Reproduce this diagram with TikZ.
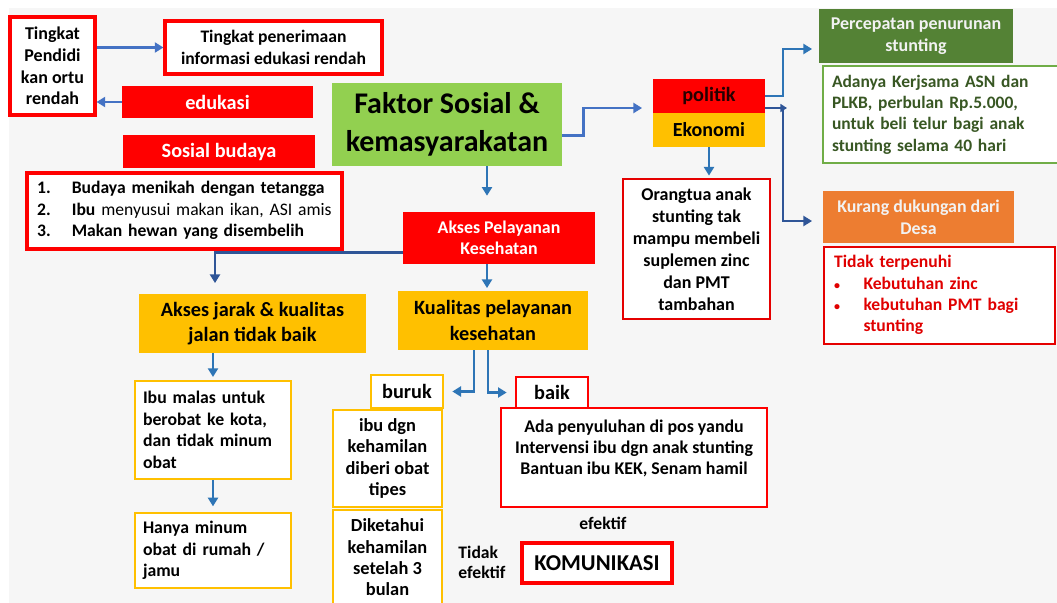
\documentclass[tikz,border=0pt]{standalone}
\usepackage{fontspec}
\setmainfont{Carlito}
\usetikzlibrary{arrows.meta,calc}

\definecolor{bgc}{HTML}{F6F6F6}
\definecolor{rd}{HTML}{FF0000}
\definecolor{gold}{HTML}{FFC000}
\definecolor{lgreen}{HTML}{92D050}
\definecolor{dgreen}{HTML}{548235}
\definecolor{tgreen}{HTML}{385723}
\definecolor{bgreen}{HTML}{70AD47}
\definecolor{orng}{HTML}{ED7D31}
\definecolor{blueA}{HTML}{2E75B6}
\definecolor{blueB}{HTML}{4472C4}
\definecolor{blueC}{HTML}{2F5597}
\definecolor{txtred}{HTML}{E00000}

% font size helper
\newcommand\fsz[2]{\fontsize{#1pt}{#2pt}\selectfont}
% box from corner (x1,y1) to (x2,y2) in pixel units
\newcommand\pbox[7]{\node[#6,minimum width={(#4-#2)*0.75pt},minimum height={(#5-#3)*0.75pt}] (#1) at ({(#2+#4)/2},{(#3+#5)/2}) {#7};}
% a justified line
\newcommand\jline[1]{\makebox[\linewidth][s]{#1}}
% small bullet
\newcommand\smbul{{\fsz{9}{9}\textbullet}}

\begin{document}
\begin{tikzpicture}[x=0.75pt,y=-0.75pt,
  base/.style={inner sep=0pt,align=center,font=\bfseries},
  redline/.style={base,draw=rd,line width=2.3pt,fill=white},
  redthin/.style={base,draw=rd!90!black,line width=1.1pt,fill=white},
  redfill/.style={base,fill=rd,text=white},
  goldfill/.style={base,fill=gold},
  goldline/.style={base,draw=gold,line width=2pt,fill=white},
  arr/.style={line width=2pt,-{Triangle[length=6.5pt,width=7.5pt]}}]

\useasboundingbox (0,0) rectangle (1057,603);
\clip (0,0) rectangle (1057,603);
\fill[white] (0,0) rectangle (1057,603);
\fill[bgc] (9,8) rectangle (1057,603);

% left column: education and culture
\pbox{tp}{10}{17}{95}{115}{redline,font=\bfseries\fsz{13.5}{16.3}}{Tingkat\\Pendidi\\kan ortu\\rendah}
\pbox{tr}{165}{21}{382}{74}{redline,font=\bfseries\fsz{13.2}{17}}{Tingkat penerimaan\\informasi edukasi rendah}
\pbox{edu}{122}{86}{313}{118}{redfill,font=\bfseries\fsz{15.2}{16}}{edukasi}
\pbox{sb}{123}{135}{315}{168}{redfill,font=\bfseries\fsz{15.2}{16}}{Sosial budaya}
\pbox{ls}{27}{173}{342}{249}{redline,align=left,text width=221pt,font=\bfseries\fsz{13.2}{16}}{%
\begin{tabular}{@{}p{26pt}@{}l@{}}
1. & Budaya menikah dengan tetangga\\
2. & Ibu \mdseries menyusui makan ikan, ASI amis\\
3. & Makan hewan yang disembelih
\end{tabular}}

% centre column
\pbox{fs}{332}{83}{562}{166}{base,fill=lgreen,font=\bfseries\fsz{22.5}{28.5}}{Faktor Sosial \&\\kemasyarakatan}
\pbox{ap}{403}{212}{595}{264}{redfill,font=\bfseries\fsz{13.4}{16}}{Akses Pelayanan\\Kesehatan}
\pbox{aj}{139}{294}{366}{353}{goldfill,font=\bfseries\fsz{15.2}{19}}{Akses jarak \& kualitas\\jalan tidak baik}
\pbox{kp}{398}{291}{588}{350}{goldfill,font=\bfseries\fsz{15.2}{19}}{Kualitas pelayanan\\kesehatan}
\pbox{im}{135}{381}{291}{479}{goldline,align=left,text width=105pt,font=\bfseries\fsz{13.3}{16.2}}{Ibu malas untuk\\berobat ke kota,\\dan tidak minum\\obat}
\pbox{hm}{135}{513}{291}{588}{goldline,align=left,text width=105pt,font=\bfseries\fsz{13.3}{16.2}}{Hanya minum\\obat di rumah /\\jamu}
\pbox{bk}{371}{375}{443}{408}{goldline,font=\bfseries\fsz{15.2}{16}}{buruk}
\pbox{ib}{333}{410}{442}{507}{goldline,font=\bfseries\fsz{13.8}{16.2}}{ibu dgn\\kehamilan\\diberi obat\\tipes}
\pbox{dk}{333}{510}{442}{605}{goldline,font=\bfseries\fsz{13.8}{16}}{Diketahui\\kehamilan\\setelah 3\\bulan}
\pbox{bi}{516}{377}{588}{408}{redline,line width=2pt,font=\bfseries\fsz{15.2}{16}}{baik}
\pbox{ad}{501}{408}{767}{507}{redline,line width=2pt,font=\bfseries\fsz{13.4}{15.7}}{Ada penyuluhan di pos yandu\\Intervensi ibu dgn anak stunting\\Bantuan ibu KEK, Senam hamil\\\mbox{}}
\node[base,font=\bfseries\fsz{13.2}{15}] (ef) at (603,523) {efektif};
\node[base,align=left,font=\bfseries\fsz{13.2}{15}] (te) at (482,562) {Tidak\\efektif};
\pbox{km}{522}{543}{672}{583}{redline,line width=2.6pt,font=\bfseries\fsz{17}{18}}{KOMUNIKASI}

% right column: politics and economy
\pbox{pol}{653}{79}{765}{113}{redfill,text=black!85!red,font=\bfseries\fsz{15.2}{16}}{politik}
\pbox{eko}{653}{113}{765}{147}{goldfill,font=\bfseries\fsz{15}{16}}{Ekonomi}
\pbox{ot}{623}{179}{770}{319}{redthin,font=\bfseries\fsz{13.5}{16.5}}{Orangtua anak\\stunting tak\\mampu membeli\\suplemen zinc\\dan PMT\\tambahan}
\pbox{pc}{819}{9}{1013}{63}{base,fill=dgreen,text=white!95!black,font=\bfseries\fsz{13.5}{16.5}}{Percepatan penurunan\\stunting}
\pbox{ada}{823}{66}{1061}{163}{base,draw=bgreen,line width=1.1pt,fill=white,text=tgreen,align=left,text width=165pt,font=\bfseries\fsz{13.1}{16}}{%
\jline{Adanya Kerjsama ASN dan}\\
\jline{PLKB, perbulan Rp.5.000,}\\
\jline{untuk beli telur bagi anak}\\
stunting selama 40 hari}
\pbox{ku}{823}{191}{1014}{243}{base,fill=orng,text=white!95!black,font=\bfseries\fsz{13.4}{16.5}}{Kurang dukungan dari\\Desa}
\pbox{tt}{824}{247}{1055}{344}{redthin,text=txtred,align=left,text width=158pt,font=\bfseries\fsz{13.2}{16}}{%
\begin{tabular}{@{}p{22pt}@{}l@{}}
\multicolumn{2}{@{}l@{}}{Tidak terpenuhi}\\
\smbul & Kebutuhan zinc\\
\smbul & kebutuhan PMT bagi\\
 & stunting
\end{tabular}}

% helper abscissas for connectors
\coordinate (xa) at (487,0);
\coordinate (xb) at (215,0);
\coordinate (xc) at (474,390);
\coordinate (xd) at (488,390);
\coordinate (xe) at (783,0);

% connectors
\draw[arr,blueB] (tp.east |- tr.west) -- (tr.west);
\draw[arr,blueB] (edu.west) -- (edu.west -| tp.east);
\draw[arr,blueB,shorten >=8pt] ([yshift=-8pt]fs.east) -- ++(21,0) |- ([yshift=-9pt]pol.west);
\draw[arr,blueA,shorten >=12pt] (fs.south -| xa) -- (ap.north -| xa);
\draw[arr,blueC,shorten >=8pt] ([yshift=-11pt]ap.west) -| (aj.north -| xb);
\draw[arr,blueA,shorten >=2pt] (ap.south -| xa) -- (kp.north -| xa);
\draw[arr,blueA,shorten >=2pt] (aj.south -| im.north) -- (im.north);
\draw[arr,blueA,shorten >=4pt] (im.south) -- (hm.north);
\draw[arr,blueA,shorten >=6pt] (kp.south -| xc) |- (bk.east);
\draw[arr,blueA,shorten >=6pt] (kp.south -| xd) |- (bi.west);
\draw[arr,blueA,shorten >=2pt] (eko.south) -- (eko.south |- ot.north);
\draw[arr,blueA,shorten >=5pt] (pol.east) -- (pol.east -| xe) |- ([yshift=-9.75pt]pc.west);
\draw[arr,blueC,shorten >=8pt] ([yshift=-9pt]pol.east) -- ([yshift=-9pt]pol.east -| xe) |- ([yshift=-3pt]ku.west);
\draw[blueC,line width=1.5pt,-{Triangle[length=5pt,width=6pt]}] ([yshift=-9pt]pol.east) -- ($([yshift=-9pt]pol.east -| xe)+(4,0)$);
\end{tikzpicture}
\end{document}
